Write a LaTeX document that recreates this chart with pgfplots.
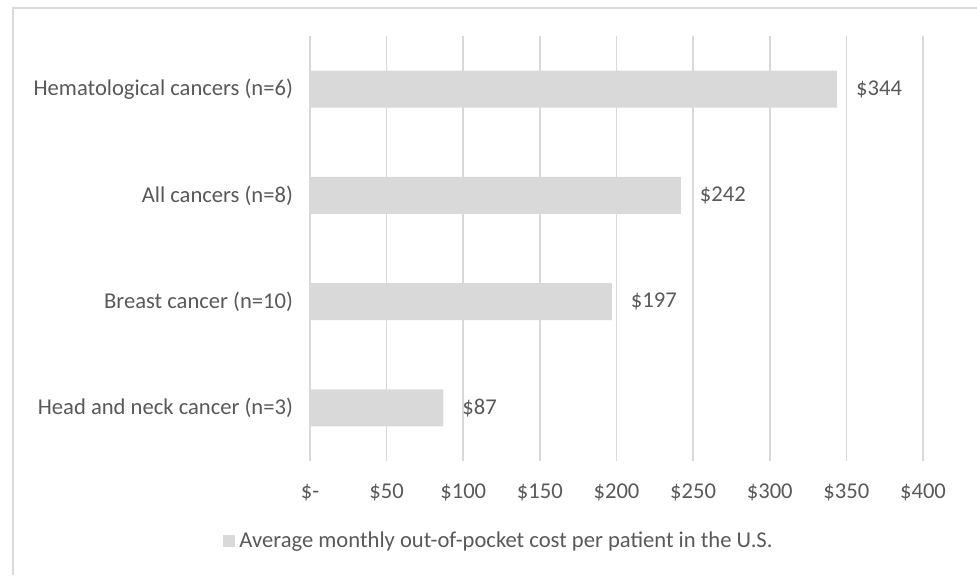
\documentclass[border=0pt]{standalone}
\usepackage{fontspec}
\setmainfont{Carlito}
\usepackage{pgfplots}
\pgfplotsset{compat=1.18}
\pgfkeys{/pgf/number format/assume math mode=true}
\definecolor{barcol}{HTML}{D9D9D9}
\definecolor{gridcol}{HTML}{D9D9D9}
\definecolor{txt}{HTML}{595959}

\begin{document}
\begin{tikzpicture}[font=\fontsize{11.3pt}{14pt}\selectfont]
% frame and bounding box, 1 px of the reference = 0.5pt
\path[use as bounding box] (-155pt,-57pt) rectangle (333.5pt,230.5pt);
\draw[gridcol,line width=0.75pt] (-148.5pt,-57pt) -- (-148.5pt,226.5pt) -- (333.5pt,226.5pt);
\begin{axis}[
  at={(0,0)},anchor=south west,
  scale only axis,width=306.5pt,height=212.5pt,
  xbar,bar width=18.5pt,
  xmin=0,xmax=400,ymin=-0.5,ymax=3.5,
  axis line style={draw=none},
  xtick={0,50,...,400},
  xticklabels={\$-,\$50,\$100,\$150,\$200,\$250,\$300,\$350,\$400},
  ytick={0,1,2,3},
  yticklabels={Head and neck cancer (n=3),Breast cancer (n=10),All cancers (n=8),Hematological cancers (n=6)},
  major tick length=0pt,
  xmajorgrids,grid style={gridcol,line width=0.75pt},
  tick label style={text=txt},
  xticklabel style={yshift=-8pt},
  yticklabel style={xshift=-5pt},
  nodes near coords={\$\pgfmathprintnumber{\pgfplotspointmeta}},
  nodes near coords style={text=txt,anchor=west,xshift=6pt},
  point meta=x,
  legend style={at={(0.31,-0.188)},anchor=center,draw=none,fill=none,text=txt,
    /tikz/every even column/.append style={column sep=0pt}},
  legend image code/.code={\fill[barcol] (0pt,-3pt) rectangle (6pt,3pt);},
]
\addplot[fill=barcol,draw=none] coordinates {(87,0) (197,1) (242,2) (344,3)};
\legend{Average monthly out-of-pocket cost per patient in the U.S.}
\end{axis}
\end{tikzpicture}
\end{document}
